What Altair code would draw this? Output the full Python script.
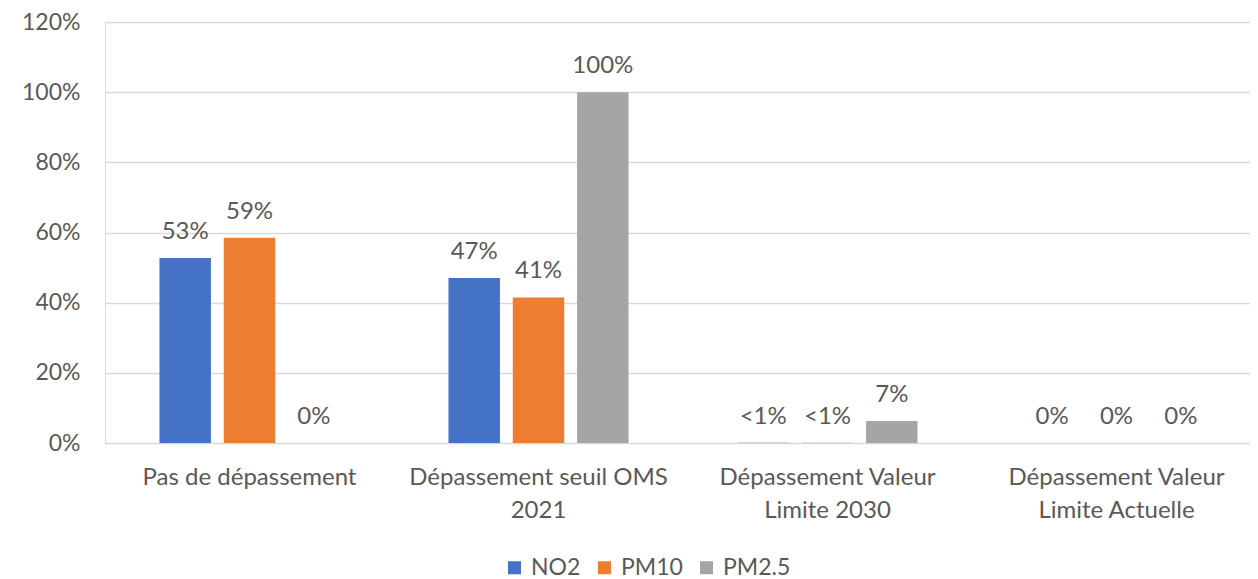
import json
import altair as alt
import pandas as pd

categories = [
    "Pas de dépassement",
    "Dépassement seuil OMS 2021",
    "Dépassement Valeur Limite 2030",
    "Dépassement Valeur Limite Actuelle",
]
category_lines = [
    ["Pas de dépassement"],
    ["Dépassement seuil OMS", "2021"],
    ["Dépassement Valeur", "Limite 2030"],
    ["Dépassement Valeur", "Limite Actuelle"],
]
series = ["NO2", "PM10", "PM2.5"]
colors = ["#4472C4", "#ED7D31", "#A5A5A5"]

no2_values = [0.527, 0.470, 0.0004, 0.0]
pm10_values = [0.585, 0.415, 0.0004, 0.0]
pm25_values = [0.0, 1.0, 0.063, 0.0]

no2_labels = ["53%", "47%", "<1%", "0%"]
pm10_labels = ["59%", "41%", "<1%", "0%"]
pm25_labels = ["0%", "100%", "7%", "0%"]

y_ticks = [0, 0.2, 0.4, 0.6, 0.8, 1.0, 1.2]

rows = []
for s, vals, labs in [
    ("NO2", no2_values, no2_labels),
    ("PM10", pm10_values, pm10_labels),
    ("PM2.5", pm25_values, pm25_labels),
]:
    for c, v, l in zip(categories, vals, labs):
        rows.append({"categorie": c, "polluant": s, "valeur": v, "etiquette": l})
df = pd.DataFrame(rows)

# label expression for multi-line category labels
expr = "datum.value"
for c, lines in reversed(list(zip(categories, category_lines))):
    expr = f"datum.value === {json.dumps(c)} ? {json.dumps(lines)} : ({expr})"

FONT = "Lato"
TXT = "#595959"

x_enc = alt.X(
    "categorie:N",
    sort=categories,
    scale=alt.Scale(paddingInner=0.377, paddingOuter=0.1885, range=[0, 1156]),
    axis=alt.Axis(
        title=None,
        labelAngle=0,
        labelExpr=expr,
        labelFont=FONT,
        labelFontSize=24,
        labelColor=TXT,
        labelPadding=22,
        labelLineHeight=33,
        labelLimit=500,
        ticks=False,
        domain=False,
        grid=False,
    ),
)
xo_enc = alt.XOffset(
    "polluant:N",
    sort=series,
    scale=alt.Scale(paddingInner=0.2, paddingOuter=0),
)
y_enc = alt.Y(
    "valeur:Q",
    scale=alt.Scale(domain=[0, 1.2], nice=False),
    axis=alt.Axis(
        title=None,
        values=y_ticks,
        format=".0%",
        labelFont=FONT,
        labelFontSize=23,
        labelColor=TXT,
        labelPadding=25,
        ticks=False,
        domain=False,
        grid=True,
        gridColor="#D9D9D9",
        gridWidth=1.3,
    ),
)

bars = alt.Chart(df).mark_bar().encode(
    x=x_enc,
    xOffset=xo_enc,
    y=y_enc,
    color=alt.Color(
        "polluant:N",
        sort=series,
        scale=alt.Scale(domain=series, range=colors),
        legend=alt.Legend(
            title=None,
            orient="none",
            direction="horizontal",
            legendX=398,
            legendY=534,
            symbolType="square",
            symbolSize=169,
            symbolStrokeWidth=0,
            labelFont=FONT,
            labelFontSize=23,
            labelColor=TXT,
            labelOffset=5,
            columnPadding=12,
        ),
    ),
)

labels = alt.Chart(df).mark_text(
    baseline="alphabetic", dy=-19, font=FONT, fontSize=24, color=TXT
).encode(
    x=x_enc,
    xOffset=xo_enc,
    y=alt.Y("valeur:Q"),
    text="etiquette:N",
)

chart = (
    alt.layer(bars, labels)
    .properties(
        width=1145,
        height=421,
        autosize=alt.AutoSizeParams(type="none"),
        padding={"left": 97, "top": 14, "right": 0, "bottom": 136},
    )
    .configure_view(stroke=None)
    .configure(background="white")
)

chart.save("out.html", embed_options={"renderer": "svg", "actions": False})
